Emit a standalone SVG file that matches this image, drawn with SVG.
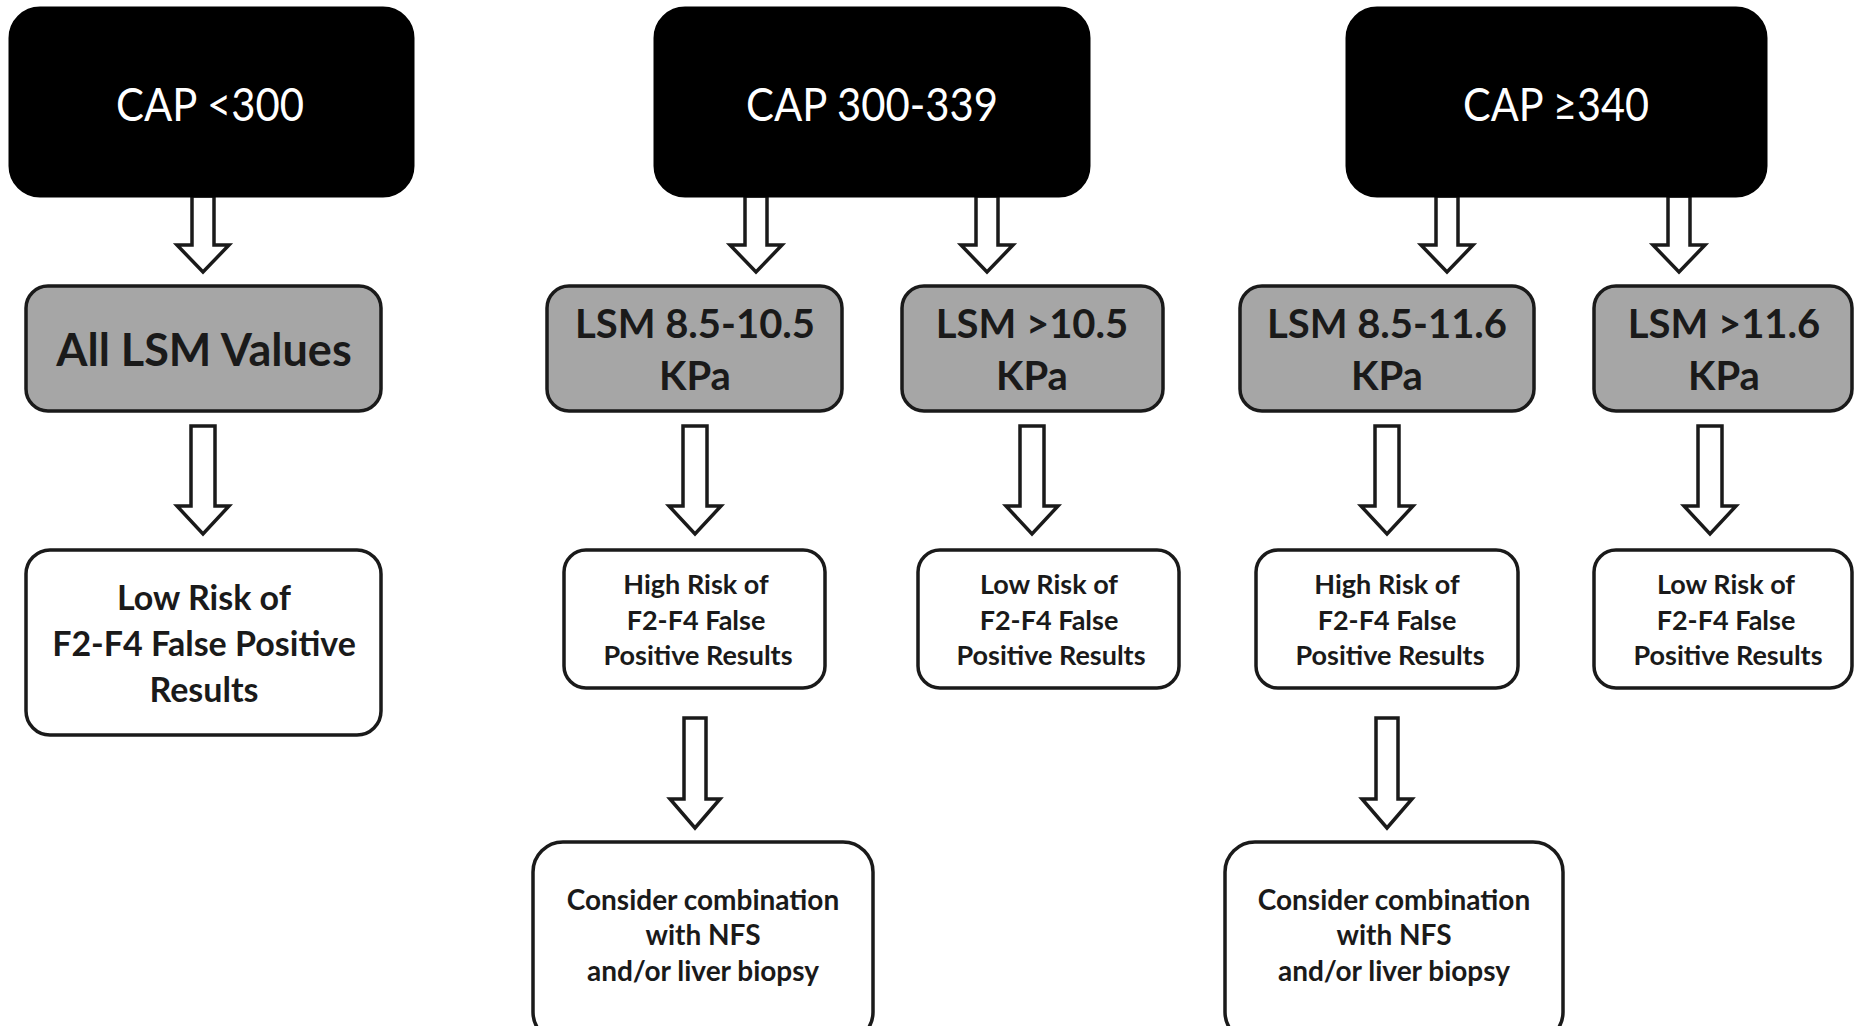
<svg xmlns="http://www.w3.org/2000/svg" width="1854" height="1026" viewBox="0 0 1854 1026">
<style>
text{font-family:Lato,"Open Sans","Liberation Sans",sans-serif;text-anchor:middle;fill:#1a1a1a}
.cap rect{fill:#000;stroke:#000;stroke-width:3}
.cap text{fill:#fff;font-size:47px}
.lsm rect{fill:#a6a6a6;stroke:#1a1a1a;stroke-width:3.5}
.lsm text{font-weight:bold;font-size:40px}
.res rect{fill:#fff;stroke:#1a1a1a;stroke-width:3.5}
.res text{font-weight:bold;font-size:27px}
.big text{font-size:34px}
.nfs text{font-size:28px}
.arrow{fill:#fff;stroke:#1a1a1a;stroke-width:3.5;stroke-linejoin:miter}
</style>
<rect width="1854" height="1026" fill="#fff"/>
<g id="connectors">
<polygon class="arrow" points="192,196 214,196 214,245 229,245 203,272 177,245 192,245"/>
<polygon class="arrow" points="745,196 767,196 767,245 782,245 756,272 730,245 745,245"/>
<polygon class="arrow" points="976,196 998,196 998,245 1013,245 987,272 961,245 976,245"/>
<polygon class="arrow" points="1436,196 1458,196 1458,245 1473,245 1447,272 1421,245 1436,245"/>
<polygon class="arrow" points="1668,196 1690,196 1690,245 1705,245 1679,272 1653,245 1668,245"/>
<polygon class="arrow" points="191,426 215,426 215,506 229,506 203,534 177,506 191,506"/>
<polygon class="arrow" points="683,426 707,426 707,506 721,506 695,534 669,506 683,506"/>
<polygon class="arrow" points="1020,426 1044,426 1044,506 1058,506 1032,534 1006,506 1020,506"/>
<polygon class="arrow" points="1375,426 1399,426 1399,506 1413,506 1387,534 1361,506 1375,506"/>
<polygon class="arrow" points="1698,426 1722,426 1722,506 1736,506 1710,534 1684,506 1698,506"/>
<polygon class="arrow" points="684,718 706,718 706,799 720,799 695,828 670,799 684,799"/>
<polygon class="arrow" points="1376,718 1398,718 1398,799 1412,799 1387,828 1362,799 1376,799"/>
</g>
<g id="cap300" class="cap"><rect x="10" y="8" width="403" height="188" rx="30"/><text x="210" y="121" textLength="188" lengthAdjust="spacingAndGlyphs">CAP &lt;300</text></g>
<g id="cap300_339" class="cap"><rect x="655" y="8" width="434" height="188" rx="30"/><text x="872" y="121" textLength="252" lengthAdjust="spacingAndGlyphs">CAP 300-339</text></g>
<g id="cap340" class="cap"><rect x="1347" y="8" width="419" height="188" rx="30"/><text x="1556" y="121" textLength="186" lengthAdjust="spacingAndGlyphs">CAP ≥340</text></g>
<g id="lsm_all" class="lsm"><rect x="26" y="286" width="355" height="125" rx="22"/><text x="204" y="366" style="font-size:45px">All LSM Values</text></g>
<g id="lsm_85_105" class="lsm"><rect x="547" y="286" width="295" height="125" rx="22"/><text x="695" y="338">LSM 8.5-10.5</text><text x="695" y="390">KPa</text></g>
<g id="lsm_gt105" class="lsm"><rect x="902" y="286" width="261" height="125" rx="22"/><text x="1032" y="338">LSM &gt;10.5</text><text x="1032" y="390">KPa</text></g>
<g id="lsm_85_116" class="lsm"><rect x="1240" y="286" width="294" height="125" rx="22"/><text x="1387" y="338">LSM 8.5-11.6</text><text x="1387" y="390">KPa</text></g>
<g id="lsm_gt116" class="lsm"><rect x="1594" y="286" width="258" height="125" rx="22"/><text x="1724" y="338">LSM &gt;11.6</text><text x="1724" y="390">KPa</text></g>
<g id="low_all" class="res big"><rect x="26" y="550" width="355" height="185" rx="24"/><text x="204" y="610">Low Risk of</text><text x="204" y="656">F2-F4 False Positive</text><text x="204" y="702">Results</text></g>
<g id="high1" class="res"><rect x="564" y="550" width="261" height="138" rx="22"/><text x="696" y="594">High Risk of</text><text x="696" y="630">F2-F4 False</text><text x="698" y="665">Positive Results</text></g>
<g id="low2" class="res"><rect x="918" y="550" width="261" height="138" rx="22"/><text x="1049" y="594">Low Risk of</text><text x="1049" y="630">F2-F4 False</text><text x="1051" y="665">Positive Results</text></g>
<g id="high3" class="res"><rect x="1256" y="550" width="262" height="138" rx="22"/><text x="1387" y="594">High Risk of</text><text x="1387" y="630">F2-F4 False</text><text x="1390" y="665">Positive Results</text></g>
<g id="low4" class="res"><rect x="1594" y="550" width="258" height="138" rx="22"/><text x="1726" y="594">Low Risk of</text><text x="1726" y="630">F2-F4 False</text><text x="1728" y="665">Positive Results</text></g>
<g id="nfs1" class="res nfs"><rect x="533" y="842" width="340" height="200" rx="30"/><text x="703" y="910">Consider combination</text><text x="703" y="945">with NFS</text><text x="703" y="981">and/or liver biopsy</text></g>
<g id="nfs2" class="res nfs"><rect x="1225" y="842" width="338" height="200" rx="30"/><text x="1394" y="910">Consider combination</text><text x="1394" y="945">with NFS</text><text x="1394" y="981">and/or liver biopsy</text></g>
</svg>
